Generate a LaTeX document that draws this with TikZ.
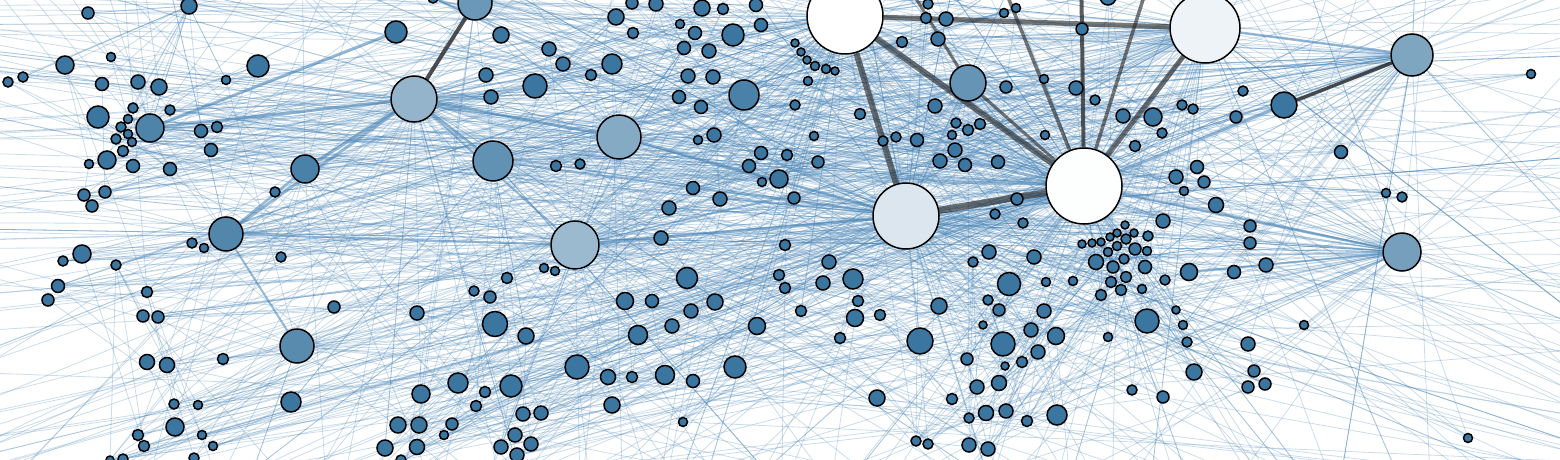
\documentclass[tikz,border=0pt]{standalone}
\usepackage{tikz}
\usetikzlibrary{backgrounds}
\definecolor{edgeblue}{RGB}{70,130,180}
\definecolor{nodeblue}{RGB}{58,118,160}

\tikzset{
  dot/.style={circle, draw=black, line width=1.5pt, inner sep=0pt},
  link/.style={draw=edgeblue, line width=0.8pt, opacity=0.28},
  boldlink/.style={draw=edgeblue, line width=#1, opacity=0.55},
  darklink/.style={draw=black!85, line width=#1, opacity=0.62},
}

\begin{document}
\begin{tikzpicture}[x=1pt, y=-1pt]
\useasboundingbox (0,0) rectangle (1560,460);
\clip (0,0) rectangle (1560,460);
\pgfmathsetseed{2718}
\pgfmathdeclarerandomlist{hubs}{{127}{127}{127}{128}{128}{78}{78}{129}{63}{77}{64}{93}{289}{130}{65}}

\foreach \x/\y/\r/\p [count=\i] in {
 189/6/8/100, 88/13/6/100, 65/65/9/100, 111/57/4.5/100, 8/82/5/100,
 23/77/5/100, 102/84/6.5/100, 138/82/7/100, 159/87/8/100, 98/117/11/100,
 133/108/5/100, 170/110/5/100, 128/119/4.5/100, 150/128/14/90, 121/127/5/100,
 128/134/4.5/100, 116/139/5/100, 132/142/4.5/100, 123/151/5.5/100, 201/131/6.5/100,
 217/127/5.5/100, 211/150/6.5/100, 107/160/9/100, 89/164/4.5/100, 133/166/6.5/100,
 170/169/6.5/100, 258/66/11/100, 226/80/4.5/100, 305/169/14/92, 275/192/5/100,
 84/195/6/100, 105/192/6/100, 92/206/6/100, 226/234/17/88, 396/32/11/100,
 475/3/17/75, 501/35/8/100, 549/49/7/100, 563/64/7/100, 486/75/7/100,
 491/97/7/100, 535/86/12/100, 591/75/5.5/100, 612/64/10/100, 616/17/8/100,
 632/3/6/100, 656/4/7/100, 633/33/5.5/100, 702/8/8/100, 723/9/5.5/100,
 756/5/6.5/100, 761/25/6.5/100, 680/24/4.5/100, 695/33/6.5/100, 733/35/11/100,
 684/48/6.5/100, 709/51/7/100, 688/76/7/100, 713/77/7/100, 679/97/6.5/100,
 744/95/15/92, 701/107/6.5/100, 414/99/23/55, 619/137/22/62, 493/161/20/80,
 714/135/7/100, 698/140/4.5/100, 761/153/6.5/100, 749/166/6.5/100, 762/182/4.5/100,
 779/179/9/100, 556/166/5.5/100, 580/164/5/100, 693/188/6.5/100, 720/199/7/100,
 669/208/7/100, 575/245/24/50, 845/16/38/0, 928/4/5/100, 926/18/5.5/100,
 946/19/7/100, 1004/13/4.5/100, 1016/8/4.5/100, 902/42/5.5/100, 938/39/7/100,
 795/43/4/100, 801/52/4/100, 807/60/4/100, 815/66/4.5/100, 826/69/4.5/100,
 835/71/4/100, 808/81/4.5/100, 968/83/18/78, 1006/87/6/100, 1044/79/4.5/100,
 1082/29/6/100, 1076/88/7/100, 1095/100/5/100, 935/106/7/100, 795/105/5/100,
 860/114/5.5/100, 956/123/5/100, 968/130/5.5/100, 980/124/5.5/100, 952/135/4.5/100,
 896/137/5/100, 917/140/6.5/100, 883/141/5/100, 1045/135/4.5/100, 1123/116/7/100,
 1153/117/9/100, 1162/133/5/100, 1135/146/5.5/100, 814/136/4.5/100, 955/150/7/100,
 940/161/7/100, 965/165/6.5/100, 998/162/6.5/100, 787/155/5.5/100, 818/162/6/100,
 794/198/6/100, 1017/199/6/100, 995/214/5/100, 1023/223/5/100, 1163/221/7/100,
 1125/225/4/100, 1084/186/38/1, 906/216/33/18, 1205/28/35/9, 1412/55/21/65,
 1284/105/13/100, 1531/74/4.5/100, 1243/91/5/100, 1182/105/5/100, 1193/109/5/100,
 1236/117/6/100, 1341/152/6.5/100, 1197/167/6.5/100, 1176/177/7/100, 1204/182/6/100,
 1184/191/4.5/100, 1216/205/7.5/100, 1386/193/4.5/100, 1402/197/5/100, 1250/226/6/100,
 82/254/9/100, 63/261/5/100, 116/265/5/100, 58/286/6.5/100, 48/300/6/100,
 192/243/5/100, 204/248/4.5/100, 281/257/5/100, 147/292/5.5/100, 143/316/6/100,
 158/317/6/100, 334/307/6/100, 297/346/17/85, 147/362/7.5/100, 167/365/7.5/100,
 223/359/5.5/100, 291/402/10/100, 174/404/5/100, 198/405/4.5/100, 175/427/9/100,
 138/435/5.5/100, 202/435/4.5/100, 144/446/5.5/100, 213/446/4.5/100, 110/460/4/100,
 123/459/5/100, 194/458/5/100, 385/448/8/100, 661/238/7/100, 544/268/4.5/100,
 555/271/4.5/100, 507/278/5.5/100, 474/291/5/100, 490/297/6/100, 417/313/7/100,
 495/324/12.5/100, 526/336/8/100, 687/278/10.5/100, 625/301/8.5/100, 652/301/6.5/100,
 691/311/7/100, 715/302/8/100, 672/326/7/100, 638/335/9.5/100, 757/326/8.5/100,
 779/275/5.5/100, 577/367/12/100, 608/377/7.5/100, 632/377/5.5/100, 665/375/9.5/100,
 693/381/6.5/100, 735/367/11/100, 458/383/10/100, 421/394/9/100, 485/392/5.5/100,
 511/386/11/100, 476/406/5.5/100, 612/405/8/100, 683/422/4.5/100, 523/414/7/100,
 541/413/7/100, 398/425/8/100, 419/425/8/100, 452/424/6/100, 444/435/4.5/100,
 515/435/7/100, 501/447/7/100, 531/444/7/100, 417/447/7.5/100, 517/455/7/100,
 401/460/5/100, 785/245/5.5/100, 829/262/7/100, 853/279/10/100, 823/283/7/100,
 785/288/5.5/100, 858/301/5.5/100, 855/318/8.5/100, 880/315/5.5/100, 801/311/5.5/100,
 840/338/5.5/100, 920/341/13/100, 939/306/8/100, 989/252/7/100, 973/262/5/100,
 1034/257/7/100, 1009/284/11.5/100, 1046/282/4.5/100, 1073/281/4.5/100, 988/300/5/100,
 999/310/6/100, 983/325/4/100, 1044/311/7/100, 1031/330/7/100, 1003/344/12/100,
 1056/336/8.5/100, 1038/352/7/100, 967/359/6/100, 1005/366/4/100, 1022/362/5.5/100,
 999/383/7.5/100, 977/387/7/100, 952/399/5.5/100, 877/398/8/100, 986/413/7.5/100,
 1006/411/7/100, 969/418/5/100, 1027/421/5.5/100, 1057/415/10/100, 916/441/5/100,
 928/444/5/100, 969/445/7/100, 988/449/7/100, 1082/244/4/100, 1092/243/4/100,
 1101/242/4/100, 1110/237/4/100, 1117/233/4/100, 1126/239/5/100, 1134/233/4/100,
 1148/236/5/100, 1096/262/7.5/100, 1108/252/4.5/100, 1117/246/4.5/100, 1135/249/6/100,
 1147/251/4.5/100, 1113/267/6/100, 1124/259/5/100, 1145/267/6.5/100, 1111/282/5.5/100,
 1126/277/5.5/100, 1121/290/5.5/100, 1142/289/4.5/100, 1101/295/5.5/100, 1165/280/5/100,
 1147/321/12/100, 1108/337/4.5/100, 1132/390/5/100, 1163/397/6/100, 1250/243/6/100,
 1189/272/8.5/100, 1234/272/6.5/100, 1266/265/7/100, 1402/252/19/70, 1176/310/4/100,
 1183/325/4.5/100, 1187/342/5/100, 1248/344/7/100, 1304/325/4.5/100, 1194/372/8/100,
 1254/371/6/100, 1248/387/6/100, 1265/384/6/100, 1468/438/4.5/100, 1108/-3/8/100,
 433/-2/5/100} {
  \node[dot, minimum size={2*\r*1pt}, fill=nodeblue!\p!white] (n\i) at (\x,\y) {};
}

% far ends of the links that leave the picture
\foreach \k in {1,...,72} {
  \pgfmathsetmacro{\a}{5*\k+4*rand}
  \coordinate (far\k) at ({780+1250*cos(\a)},{230+650*sin(\a)});
}
\coordinate (upA) at (1080,-80);
\coordinate (upB) at (985,-60);
\coordinate (upC) at (1165,-70);
\coordinate (upD) at (880,-60);

\begin{scope}[on background layer]
\clip (0,0) rectangle (1560,460);
% links between near nodes, to a hub and out of the picture
\foreach \i in {1,...,301} {
  \foreach \k in {1,2} {
    \pgfmathrandominteger{\d}{-30}{30}
    \pgfmathtruncatemacro{\j}{max(1,min(301,\i+(\d)))}
    \ifnum\i=\j\else \draw[link] (n\i) -- (n\j); \fi
  }
  \pgfmathrandomitem{\h}{hubs}
  \ifnum\i=\h\else \draw[link] (n\i) -- (n\h); \fi
  \pgfmathrandominteger{\t}{1}{144}
  \ifnum\t<73 \draw[link] (n\i) -- (far\t); \fi
}
% fans of the hubs
\foreach \h/\m in {127/60,128/50,78/45,129/40,63/22,77/26,64/18,65/12,130/28,289/26,93/14,34/10,158/10,29/8,14/8,36/10,61/6} {
  \foreach \k in {1,...,\m} {
    \pgfmathrandominteger{\t}{1}{72}
    \draw[link] (n\h) -- (far\t);
    \pgfmathrandominteger{\j}{1}{301}
    \ifnum\h=\j\else \draw[link] (n\h) -- (n\j); \fi
  }
}
% heavy links
\draw[boldlink=3pt] (n14) -- (n35);
\draw[boldlink=3pt] (n14) -- (n63);
\draw[boldlink=3pt] (n29) -- (n63);
\draw[boldlink=3pt] (n34) -- (n63);
\draw[boldlink=2.5pt] (n34) -- (n29);
\draw[boldlink=3pt] (n63) -- (n64);
\draw[boldlink=2.5pt] (n63) -- (n65);
\draw[boldlink=2pt] (n63) -- (n77);
\draw[boldlink=3pt] (n64) -- (n128);
\draw[boldlink=3pt] (n77) -- (n128);
\draw[boldlink=2pt] (n34) -- (n77);
\draw[boldlink=2pt] (n158) -- (n34);
\draw[boldlink=2pt] (n65) -- (n128);
\draw[boldlink=3pt] (n127) -- (n131);
\draw[boldlink=2.5pt] (n127) -- (n289);
\draw[boldlink=2pt] (n289) -- (n286);
\draw[boldlink=2.5pt] (n129) -- (n130);
\draw[darklink=4pt, opacity=0.8] (n63) -- (n36);
\draw[darklink=3.5pt, opacity=0.8] (n131) -- (n130);
\draw[darklink=6pt] (n78) -- (n128);
\draw[darklink=6pt] (n78) -- (n127);
\draw[darklink=7pt] (n128) -- (n127);
\draw[darklink=5pt] (n78) -- (n129);
\draw[darklink=5pt] (n127) -- (n129);
\draw[darklink=4pt, opacity=0.75] (n127) -- (n96);
\draw[darklink=4pt, opacity=0.75] (n96) -- (upA);
\draw[darklink=3.5pt] (n127) -- (upB);
\draw[darklink=3.5pt] (n127) -- (upC);
\draw[darklink=3pt] (n127) -- (n93);
\draw[darklink=3pt] (n93) -- (upD);
\end{scope}
\end{tikzpicture}
\end{document}
